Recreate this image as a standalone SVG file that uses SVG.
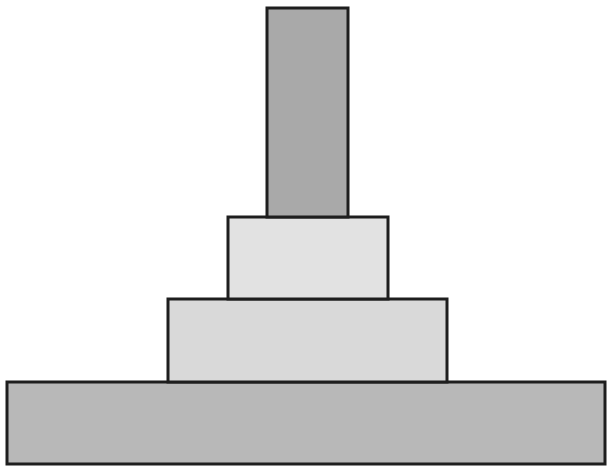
<svg xmlns="http://www.w3.org/2000/svg" width="607" height="468" viewBox="0 0 607 468">
<style>
.b{stroke:#1e1e1e;stroke-width:3}
</style>
<rect width="607" height="468" fill="#ffffff"/>
<g id="base"><rect class="b" x="7" y="382" width="598" height="82" fill="#b8b8b8"/></g>
<g id="tier3"><rect class="b" x="168" y="299" width="279" height="83" fill="#d9d9d9"/></g>
<g id="tier2"><rect class="b" x="228" y="217" width="160" height="82" fill="#e2e2e2"/></g>
<g id="pillar"><rect class="b" x="267" y="8" width="81" height="209" fill="#a9a9a9"/></g>
<g id="connectors"></g>
</svg>
